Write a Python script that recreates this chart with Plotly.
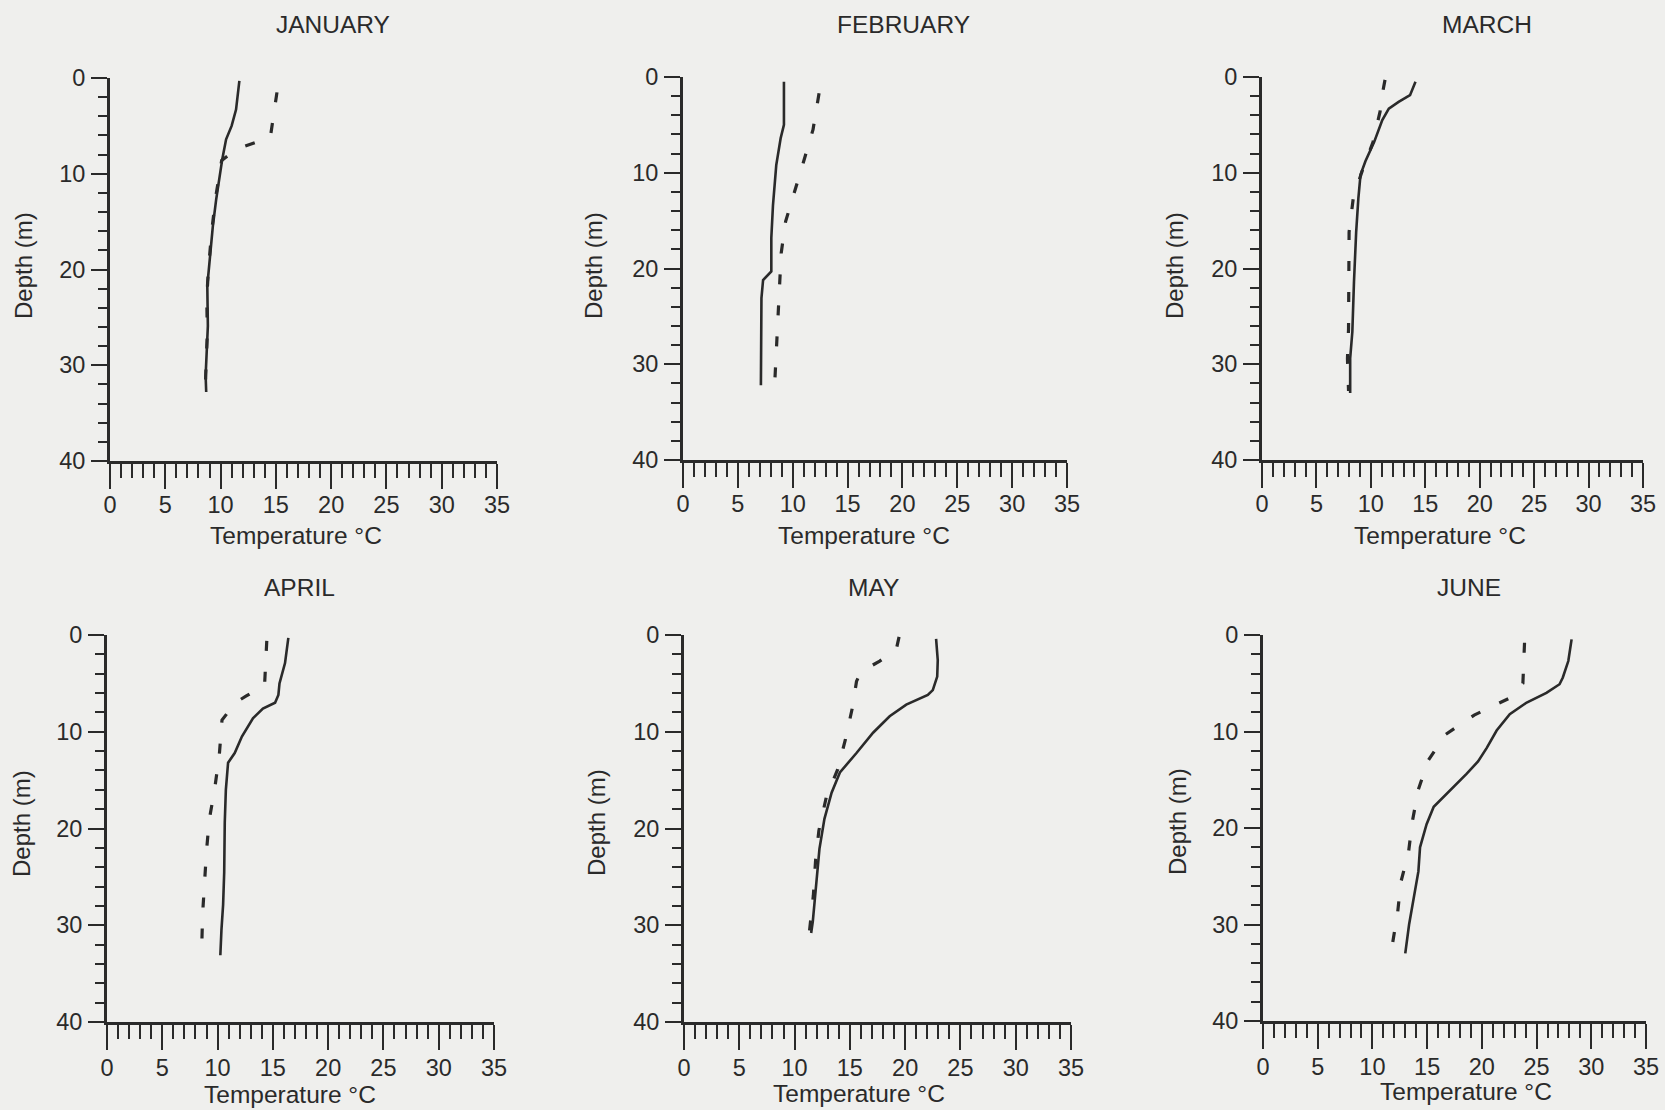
import plotly.graph_objects as go

# Monthly water-temperature profiles: depth (m) vs temperature (°C), two profiles per month
months = ["JANUARY", "FEBRUARY", "MARCH", "APRIL", "MAY", "JUNE"]

jan_solid_depth = [0.3, 3.3, 5.0, 6.4, 8.5, 10.2, 12.7, 15.5, 18.9, 21.7, 25.9, 29.4, 31.1, 32.8]
jan_solid_temp = [11.7, 11.4, 11.0, 10.5, 10.15, 9.9, 9.6, 9.3, 9.0, 8.8, 8.85, 8.75, 8.65, 8.7]
jan_dashed_depth = [1.5, 6.2, 7.4, 8.6, 12.5, 16.0, 20.0, 23.0, 26.5, 30.0, 33.0]
jan_dashed_temp = [15.1, 14.5, 11.5, 10.1, 9.55, 9.2, 8.9, 8.75, 8.8, 8.7, 8.6]

feb_solid_depth = [0.5, 5.0, 6.4, 9.2, 13.4, 16.8, 20.3, 21.2, 23.1, 30.1, 32.2]
feb_solid_temp = [9.2, 9.2, 8.9, 8.5, 8.2, 8.05, 8.05, 7.3, 7.15, 7.1, 7.1]
feb_dashed_depth = [1.7, 5.5, 8.8, 12.0, 15.1, 18.4, 21.7, 25.0, 28.3, 32.2]
feb_dashed_temp = [12.4, 11.85, 11.0, 10.15, 9.35, 8.95, 8.8, 8.65, 8.5, 8.35]

mar_solid_depth = [0.5, 1.9, 2.6, 3.3, 4.5, 6.8, 8.8, 10.2, 12.7, 16.2, 21.4, 26.6, 29.4, 33.0]
mar_solid_temp = [14.1, 13.6, 12.55, 11.65, 11.05, 10.3, 9.5, 9.05, 8.85, 8.65, 8.45, 8.3, 8.1, 8.1]
mar_dashed_depth = [0.3, 2.7, 3.6, 6.8, 9.5, 12.5, 16.2, 19.5, 22.8, 26.3, 29.4, 32.8]
mar_dashed_temp = [11.3, 10.9, 10.85, 10.2, 9.3, 8.4, 8.0, 8.0, 7.95, 7.95, 7.85, 7.95]

apr_solid_depth = [0.3, 2.9, 5.0, 6.2, 7.0, 7.6, 8.6, 10.5, 12.2, 13.2, 16.0, 19.4, 24.5, 27.9, 30.5, 33.1]
apr_solid_temp = [16.4, 16.1, 15.6, 15.5, 15.2, 14.1, 13.2, 12.2, 11.55, 10.95, 10.75, 10.65, 10.6, 10.5, 10.35, 10.25]
apr_dashed_depth = [0.6, 5.2, 6.3, 7.0, 8.8, 12.5, 15.8, 19.1, 22.3, 25.5, 28.8, 33.0]
apr_dashed_temp = [14.45, 14.25, 12.6, 11.6, 10.4, 10.15, 9.75, 9.25, 9.0, 8.85, 8.65, 8.55]

may_solid_depth = [0.4, 2.6, 4.3, 5.7, 6.2, 7.2, 8.4, 10.1, 12.2, 14.2, 16.3, 19.0, 22.1, 26.2, 29.6, 30.8]
may_solid_temp = [22.8, 22.95, 22.9, 22.5, 22.05, 20.1, 18.6, 17.1, 15.6, 14.1, 13.35, 12.7, 12.25, 11.95, 11.65, 11.5]
may_dashed_depth = [0.2, 1.5, 2.7, 3.8, 4.8, 7.4, 10.8, 13.9, 16.6, 20.2, 23.3, 26.9, 30.6]
may_dashed_temp = [19.45, 19.2, 17.7, 16.0, 15.6, 15.25, 14.6, 13.9, 12.9, 12.2, 11.9, 11.7, 11.35]

jun_solid_depth = [0.45, 2.7, 4.4, 5.1, 6.0, 7.0, 8.2, 9.9, 11.7, 13.1, 14.4, 15.8, 16.9, 17.8, 19.6, 22.0, 24.5, 27.6, 30.0, 33.0]
jun_solid_temp = [28.2, 27.9, 27.4, 27.1, 25.9, 24.1, 22.55, 21.35, 20.45, 19.65, 18.6, 17.4, 16.45, 15.6, 14.95, 14.35, 14.2, 13.75, 13.35, 13.0]
jun_dashed_depth = [0.8, 5.0, 6.5, 8.3, 10.3, 13.0, 16.0, 19.3, 22.5, 25.6, 28.8, 32.9]
jun_dashed_temp = [23.9, 23.75, 22.6, 19.3, 16.7, 15.1, 14.2, 13.65, 13.3, 12.6, 12.3, 11.7]

x_tick_values = [0, 5, 10, 15, 20, 25, 30, 35]
y_tick_values = [0, 10, 20, 30, 40]
x_label = "Temperature °C"
y_label = "Depth (m)"

profiles = [
    (jan_solid_temp, jan_solid_depth, jan_dashed_temp, jan_dashed_depth),
    (feb_solid_temp, feb_solid_depth, feb_dashed_temp, feb_dashed_depth),
    (mar_solid_temp, mar_solid_depth, mar_dashed_temp, mar_dashed_depth),
    (apr_solid_temp, apr_solid_depth, apr_dashed_temp, apr_dashed_depth),
    (may_solid_temp, may_solid_depth, may_dashed_temp, may_dashed_depth),
    (jun_solid_temp, jun_solid_depth, jun_dashed_temp, jun_dashed_depth),
]

# ---- page layout (pixels) ----
W, H = 1665, 1110
INK = "#2a2a2a"
PAPER = "#efefed"
FONT = "Liberation Sans, Arial, sans-serif"

# plot-area boxes: (left, right, top, bottom) in px
boxes = [
    (110, 497, 78, 461),
    (683, 1067, 77, 460),
    (1262, 1643, 77, 460),
    (107, 494, 635, 1022),
    (684, 1071, 635, 1022),
    (1263, 1646, 635, 1021),
]
title_pos = [(333, 24), (903, 24), (1487, 24), (299, 587), (873, 587), (1469, 587)]
xlabel_pos = [(296, 535), (864, 535), (1440, 535), (290, 1094), (859, 1093), (1466, 1091)]
ylabel_pos = [(23, 266), (593, 266), (1174, 266), (21, 824), (596, 823), (1177, 822)]
x_label_standoff = [-4, -4, -4, -2, -2, -2]


def fx(px):
    return px / W


def fy(py):
    return 1 - py / H


fig = go.Figure()
layout = {}
annotations = []

for i, (box, (ts, ds, td, dd)) in enumerate(zip(boxes, profiles)):
    n = "" if i == 0 else str(i + 1)
    xa, ya = "x" + n, "y" + n
    left, right, top, bottom = box

    fig.add_trace(go.Scatter(
        x=ts, y=ds, xaxis=xa, yaxis=ya, mode="lines",
        line=dict(color=INK, width=2.6), showlegend=False, hoverinfo="skip",
    ))
    fig.add_trace(go.Scatter(
        x=td, y=dd, xaxis=xa, yaxis=ya, mode="lines",
        line=dict(color=INK, width=3.2, dash="10px,21px"), showlegend=False,
        hoverinfo="skip",
    ))

    layout["xaxis" + n] = dict(
        domain=[fx(left), fx(right)], anchor=ya, range=[0, 35],
        tickmode="array", tickvals=x_tick_values,
        ticks="outside", ticklen=25, tickwidth=2, tickcolor=INK,
        minor=dict(dtick=1, tick0=0, ticks="outside", ticklen=14, tickwidth=2, tickcolor=INK),
        showline=True, linewidth=3, linecolor=INK,
        showgrid=False, zeroline=False, ticklabelstandoff=x_label_standoff[i],
        tickfont=dict(family=FONT, size=23.5, color=INK),
    )
    layout["yaxis" + n] = dict(
        domain=[fy(bottom), fy(top)], anchor=xa, range=[40, 0],
        tickmode="array", tickvals=y_tick_values,
        ticks="outside", ticklen=16, tickwidth=2, tickcolor=INK,
        minor=dict(dtick=2, tick0=0, ticks="outside", ticklen=9, tickwidth=2, tickcolor=INK),
        showline=True, linewidth=3, linecolor=INK,
        showgrid=False, zeroline=False, ticklabelstandoff=1,
        tickfont=dict(family=FONT, size=23.5, color=INK),
    )

    tx, ty = title_pos[i]
    annotations.append(dict(text=months[i], x=fx(tx), y=fy(ty), xref="paper", yref="paper",
                            showarrow=False, xanchor="center", yanchor="middle",
                            font=dict(family=FONT, size=24.5, color=INK)))
    lx, ly = xlabel_pos[i]
    annotations.append(dict(text=x_label, x=fx(lx), y=fy(ly), xref="paper", yref="paper",
                            showarrow=False, xanchor="center", yanchor="middle",
                            font=dict(family=FONT, size=24.5, color=INK)))
    vx, vy = ylabel_pos[i]
    annotations.append(dict(text=y_label, x=fx(vx), y=fy(vy), xref="paper", yref="paper",
                            showarrow=False, xanchor="center", yanchor="middle", textangle=-90,
                            font=dict(family=FONT, size=24, color=INK)))

fig.update_layout(
    width=W, height=H, autosize=False,
    # fixed zero margins: edge labels must not grow the margins
    margin=dict(l=0, r=0, t=0, b=0, autoexpand=False),
    paper_bgcolor=PAPER, plot_bgcolor=PAPER,
    annotations=annotations,
    **layout,
)

fig.write_html("out.html")
